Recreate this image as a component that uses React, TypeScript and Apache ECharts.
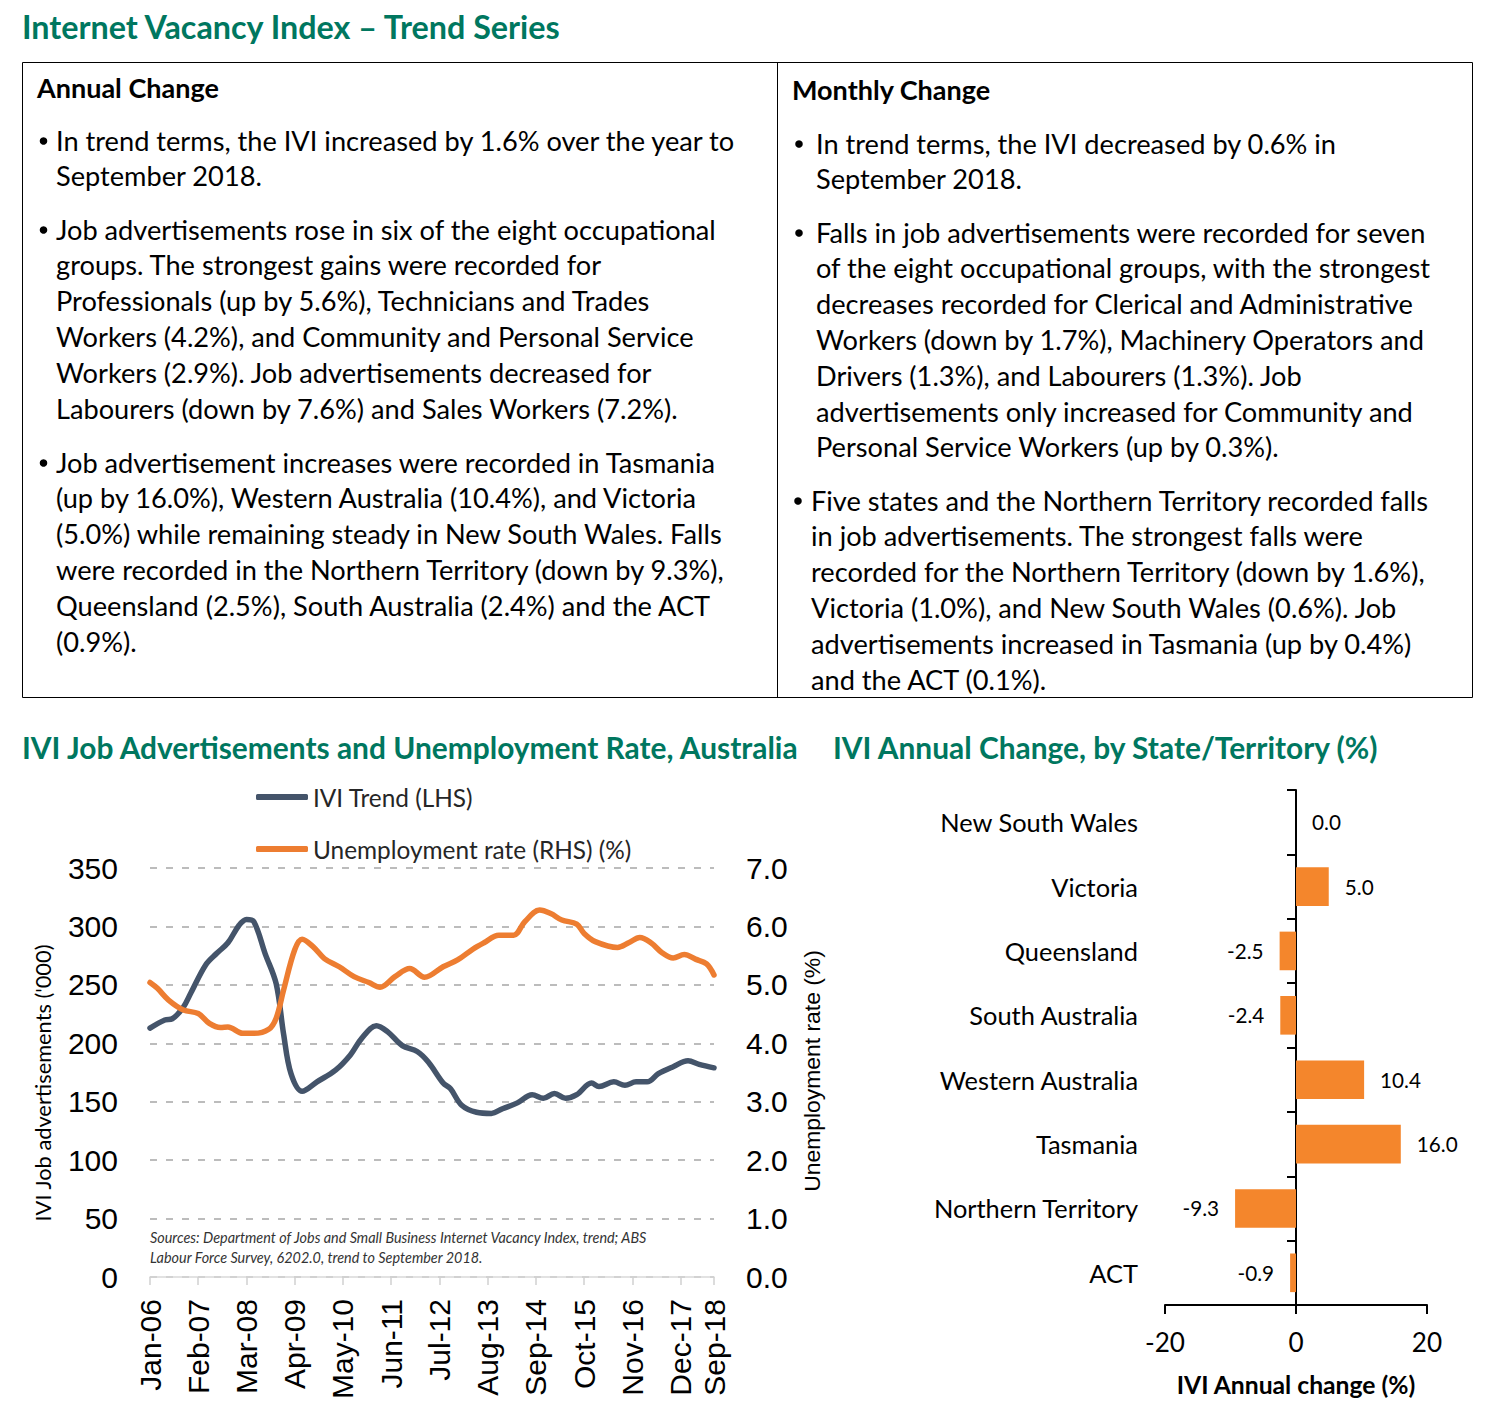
import React, { useEffect, useRef } from "react";
import * as echarts from "echarts";

// ---------- data ----------
const START_YEAR = 2006;
const MONTH_COUNT = 153; // Jan-06 .. Sep-18
const MONTH_NAMES = ["Jan", "Feb", "Mar", "Apr", "May", "Jun", "Jul", "Aug", "Sep", "Oct", "Nov", "Dec"];
const X_LABEL_STEP = 13;

// IVI trend ('000), read at month index (0 = Jan-06)
const iviMonths = [0, 4, 6, 9, 11, 15, 18, 21, 24, 26, 28, 31, 34, 36, 38, 41, 45, 50, 54, 57, 61, 64, 68, 72, 75, 79, 81, 84, 88, 92, 95, 99, 103, 106, 109, 112, 115, 119, 121, 125, 128, 131, 134, 137, 141, 145, 148, 152];
const iviValues = [213, 220, 221, 231, 243, 267, 277, 286, 301, 306, 304, 277, 251, 208, 174, 159, 167, 177, 190, 204, 215, 210, 198, 193, 184, 166, 161, 147, 141, 140, 144, 149, 156, 153, 157, 153, 156, 166, 163, 167, 164, 167, 167, 174, 180, 185, 182, 179];

// Unemployment rate (%), read at month index
const unempMonths = [0, 2, 5, 9, 13, 16, 19, 21, 25, 28, 32, 34, 36, 39, 41, 44, 47, 51, 55, 59, 62, 66, 70, 74, 79, 83, 87, 90, 94, 98, 101, 105, 108, 111, 115, 117, 120, 126, 129, 132, 135, 138, 141, 144, 147, 150, 152];
const unempValues = [5.04, 4.94, 4.74, 4.57, 4.51, 4.34, 4.27, 4.28, 4.17, 4.17, 4.24, 4.43, 4.91, 5.6, 5.78, 5.65, 5.45, 5.31, 5.14, 5.04, 4.96, 5.14, 5.28, 5.13, 5.31, 5.43, 5.61, 5.72, 5.85, 5.85, 6.08, 6.28, 6.22, 6.11, 6.04, 5.88, 5.74, 5.64, 5.72, 5.81, 5.72, 5.55, 5.46, 5.52, 5.44, 5.36, 5.17];

const LEFT_MAX = 350;
const LEFT_STEP = 50;
const RIGHT_MAX = 7;
const RIGHT_STEP = 1;

const states = ["New South Wales", "Victoria", "Queensland", "South Australia", "Western Australia", "Tasmania", "Northern Territory", "ACT"];
const annualChange = [0.0, 5.0, -2.5, -2.4, 10.4, 16.0, -9.3, -0.9];
const BAR_MIN = -20;
const BAR_MAX = 20;
const BAR_STEP = 20;

// ---------- texts ----------
const TITLE = "Internet Vacancy Index \u2013 Trend Series";
const LEFT_HEAD = "Annual Change";
const RIGHT_HEAD = "Monthly Change";
const leftParas = [
  ["In trend terms, the IVI increased by 1.6% over the year to", "September 2018."],
  [
    "Job advertisements rose in six of the eight occupational",
    "groups. The strongest gains were recorded for",
    "Professionals (up by 5.6%), Technicians and Trades",
    "Workers (4.2%), and Community and Personal Service",
    "Workers (2.9%). Job advertisements decreased for",
    "Labourers (down by 7.6%) and Sales Workers (7.2%).",
  ],
  [
    "Job advertisement increases were recorded in Tasmania",
    "(up by 16.0%), Western Australia (10.4%), and Victoria",
    "(5.0%) while remaining steady in New South Wales. Falls",
    "were recorded in the Northern Territory (down by 9.3%),",
    "Queensland (2.5%), South Australia (2.4%) and the ACT",
    "(0.9%).",
  ],
];
const rightParas = [
  ["In trend terms, the IVI decreased by 0.6% in", "September 2018."],
  [
    "Falls in job advertisements were recorded for seven",
    "of the eight occupational groups, with the strongest",
    "decreases recorded for Clerical and Administrative",
    "Workers (down by 1.7%), Machinery Operators and",
    "Drivers (1.3%), and Labourers (1.3%). Job",
    "advertisements only increased for Community and",
    "Personal Service Workers (up by 0.3%).",
  ],
  [
    "Five states and the Northern Territory recorded falls",
    "in job advertisements. The strongest falls were",
    "recorded for the Northern Territory (down by 1.6%),",
    "Victoria (1.0%), and New South Wales (0.6%). Job",
    "advertisements increased in Tasmania (up by 0.4%)",
    "and the ACT (0.1%).",
  ],
];
const LINE_TITLE = "IVI Job Advertisements and Unemployment Rate, Australia";
const BAR_TITLE = "IVI Annual Change, by State/Territory (%)";
const LEGEND_IVI = "IVI Trend (LHS)";
const LEGEND_UNEMP = "Unemployment rate (RHS) (%)";
const LEFT_AXIS_NAME = "IVI Job advertisements ('000)";
const RIGHT_AXIS_NAME = "Unemployment rate (%)";
const SOURCES = [
  "Sources: Department of Jobs and Small Business Internet Vacancy Index, trend; ABS",
  "Labour Force Survey, 6202.0, trend to September 2018.",
];
const BAR_AXIS_NAME = "IVI Annual change (%)";

// ---------- styles ----------
const TEAL = "#00775F";
const NAVY = "#44546A";
const ORANGE = "#ED7D31";
const BAR_ORANGE = "#F4862C";
const CAL = '"Lato", "Noto Sans", sans-serif';
const ARIAL = '"Liberation Sans", Arial, sans-serif';

function fit(text: string, target: number, weight: string, family: string, style = "normal"): number {
  const ctx = document.createElement("canvas").getContext("2d");
  if (!ctx) return 20;
  ctx.font = `${style} ${weight} 100px ${family}`;
  const w = ctx.measureText(text).width;
  return Math.round((1000 * target) / w) / 10;
}

export default function App() {
  const ref = useRef<HTMLDivElement>(null);

  useEffect(() => {
    if (!ref.current) return;
    const chart = echarts.init(ref.current, null, { renderer: "svg" });

    const titleSize = fit(TITLE, 541, "bold", CAL);
    const headSize = fit(LEFT_HEAD, 182, "bold", CAL);
    const bodySize = fit(leftParas[0][0], 681, "normal", CAL);
    const secSize = fit(LINE_TITLE, 780, "bold", CAL);
    const legendSize = fit(LEGEND_UNEMP, 319, "normal", CAL);
    const catSize = fit(states[0], 199, "normal", CAL);
    const srcSize = fit(SOURCES[0], 500, "normal", CAL, "italic");
    const leftNameSize = fit(LEFT_AXIS_NAME, 277, "normal", CAL);
    const rightNameSize = fit(RIGHT_AXIS_NAME, 242, "normal", ARIAL);
    const valSize = fit("10.4", 41, "normal", CAL);
    const barNameSize = fit(BAR_AXIS_NAME, 240, "bold", CAL);
    const barTickSize = fit("-20", 40, "normal", CAL);

    const months: string[] = [];
    for (let i = 0; i < MONTH_COUNT; i++) {
      const y = START_YEAR + Math.floor(i / 12);
      months.push(`${MONTH_NAMES[i % 12]}-${String(y % 100).padStart(2, "0")}`);
    }
    const showLabel = (idx: number) => idx % X_LABEL_STEP === 0 || idx === MONTH_COUNT - 1;

    const LINE_STEP = 35.8;
    const graphics: any[] = [];
    const txt = (text: string, x: number, y: number, size: number, extra: any = {}) => ({
      type: "text",
      x,
      y,
      silent: true,
      style: {
        text,
        fontSize: size,
        fontFamily: CAL,
        fill: "#000",
        verticalAlign: "middle",
        align: "left",
        ...extra,
      },
    });

    graphics.push(txt(TITLE, 22, 26, titleSize, { fontWeight: "bold", fill: TEAL }));
    graphics.push({
      type: "rect",
      silent: true,
      shape: { x: 22.5, y: 62.5, width: 1450, height: 635 },
      style: { fill: "none", stroke: "#000", lineWidth: 1 },
    });
    graphics.push({
      type: "line",
      silent: true,
      shape: { x1: 777.5, y1: 62.5, x2: 777.5, y2: 697.5 },
      style: { stroke: "#000", lineWidth: 1 },
    });
    graphics.push(txt(LEFT_HEAD, 37, 87, headSize, { fontWeight: "bold" }));
    graphics.push(txt(RIGHT_HEAD, 792, 89, headSize, { fontWeight: "bold" }));

    const addParas = (paras: string[][], starts: number[], xs: number[], bx: number[]) => {
      paras.forEach((lines, p) => {
        graphics.push({
          type: "circle",
          silent: true,
          shape: { cx: bx[p], cy: starts[p] + 1, r: 3.8 },
          style: { fill: "#000" },
        });
        lines.forEach((line, i) => {
          graphics.push(txt(line, xs[p], starts[p] + i * LINE_STEP, bodySize));
        });
      });
    };
    addParas(leftParas, [140, 229, 462], [56, 56, 56], [43.5, 43.5, 43.5]);
    addParas(rightParas, [143, 232, 500], [816, 816, 811], [799, 799, 798]);

    graphics.push(txt(LINE_TITLE, 22, 747, secSize, { fontWeight: "bold", fill: TEAL }));
    graphics.push(txt(BAR_TITLE, 833, 747, secSize, { fontWeight: "bold", fill: TEAL }));

    graphics.push({
      type: "text",
      silent: true,
      x: 42,
      y: 1083,
      rotation: Math.PI / 2,
      style: { text: LEFT_AXIS_NAME, fontSize: leftNameSize, fontFamily: CAL, fill: "#000", align: "center", verticalAlign: "middle" },
    });
    graphics.push({
      type: "text",
      silent: true,
      x: 812,
      y: 1071,
      rotation: Math.PI / 2,
      style: { text: RIGHT_AXIS_NAME, fontSize: rightNameSize, fontFamily: ARIAL, fill: "#000", align: "center", verticalAlign: "middle" },
    });
    SOURCES.forEach((s, i) =>
      graphics.push(txt(s, 150, 1237 + i * 20, srcSize, { fontStyle: "italic", fill: "#333" }))
    );
    graphics.push(txt(BAR_AXIS_NAME, 1296, 1384, barNameSize, { fontWeight: "bold", align: "center" }));

    const gridDash = { color: "#A6A6A6", width: 1.5, type: [7, 9] as any };

    const option: any = {
      animation: false,
      backgroundColor: "#fff",
      grid: [
        { left: 150, top: 868, width: 564, height: 409, containLabel: false },
        { left: 1165, top: 790, width: 262, height: 515, containLabel: false },
      ],
      legend: {
        data: [LEGEND_IVI, LEGEND_UNEMP],
        orient: "vertical",
        left: 256,
        top: 784,
        padding: 0,
        itemWidth: 52,
        itemHeight: 6,
        itemGap: 26,
        icon: "roundRect",
        selectedMode: false,
        textStyle: { fontSize: legendSize, fontFamily: CAL, color: "#262626", lineHeight: 26 },
      },
      xAxis: [
        {
          type: "category",
          gridIndex: 0,
          data: months,
          boundaryGap: false,
          axisLine: { show: true, lineStyle: { color: "#D9D9D9", width: 1.5 } },
          axisTick: { show: true, interval: (i: number) => showLabel(i), length: 8, lineStyle: { color: "#D0D0D0", width: 1.5 } },
          axisLabel: {
            interval: (i: number) => showLabel(i),
            rotate: 90,
            fontSize: 30,
            fontFamily: ARIAL,
            color: "#000",
            margin: 22,
          },
          splitLine: { show: false },
        },
        {
          type: "value",
          gridIndex: 1,
          min: BAR_MIN,
          max: BAR_MAX,
          interval: BAR_STEP,
          axisLine: { show: true, lineStyle: { color: "#000", width: 2 } },
          axisTick: { show: true, length: 9, lineStyle: { color: "#000", width: 2 } },
          axisLabel: { fontSize: barTickSize, fontFamily: CAL, color: "#000", margin: 24 },
          splitLine: { show: false },
        },
      ],
      yAxis: [
        {
          type: "value",
          gridIndex: 0,
          min: 0,
          max: LEFT_MAX,
          interval: LEFT_STEP,
          position: "left",
          axisLine: { show: false },
          axisTick: { show: false },
          axisLabel: { fontSize: 30, fontFamily: ARIAL, color: "#000", margin: 32 },
          splitLine: { show: true, lineStyle: gridDash },
        },
        {
          type: "value",
          gridIndex: 0,
          min: 0,
          max: RIGHT_MAX,
          interval: RIGHT_STEP,
          position: "right",
          axisLine: { show: false },
          axisTick: { show: false },
          axisLabel: { fontSize: 30, fontFamily: ARIAL, color: "#000", margin: 32, formatter: (v: number) => v.toFixed(1) },
          splitLine: { show: false },
        },
        {
          type: "category",
          gridIndex: 1,
          data: states,
          inverse: true,
          axisLine: { show: true, onZero: true, lineStyle: { color: "#000", width: 2 } },
          axisTick: { show: true, length: 9, lineStyle: { color: "#000", width: 2 } },
          axisLabel: { fontSize: catSize, fontFamily: CAL, color: "#000", margin: 27 },
          splitLine: { show: false },
        },
      ],
      series: [
        {
          name: LEGEND_IVI,
          type: "line",
          xAxisIndex: 0,
          yAxisIndex: 0,
          data: iviMonths.map((m, i) => [m, iviValues[i]]),
          smooth: 0.35,
          showSymbol: false,
          color: NAVY,
          lineStyle: { color: NAVY, width: 5.5, cap: "round", join: "round" },
          z: 3,
        },
        {
          name: LEGEND_UNEMP,
          type: "line",
          xAxisIndex: 0,
          yAxisIndex: 1,
          data: unempMonths.map((m, i) => [m, unempValues[i]]),
          smooth: 0.35,
          showSymbol: false,
          color: ORANGE,
          lineStyle: { color: ORANGE, width: 5.5, cap: "round", join: "round" },
          z: 3,
        },
        {
          name: "Annual change",
          type: "bar",
          xAxisIndex: 1,
          yAxisIndex: 2,
          barCategoryGap: "40%",
          data: annualChange.map((v) => ({
            value: v,
            label: { position: v < 0 ? "left" : "right" },
          })),
          itemStyle: { color: BAR_ORANGE },
          label: {
            show: true,
            distance: 16,
            fontSize: valSize,
            fontFamily: CAL,
            color: "#000",
            formatter: (p: any) => Number(p.value).toFixed(1),
          },
        },
      ],
      graphic: graphics,
    };

    chart.setOption(option);
    return () => chart.dispose();
  }, []);

  return (
    <div
      ref={ref}
      style={{ position: "absolute", left: 0, top: 0, width: 1485, height: 1424, background: "#fff" }}
    />
  );
}
